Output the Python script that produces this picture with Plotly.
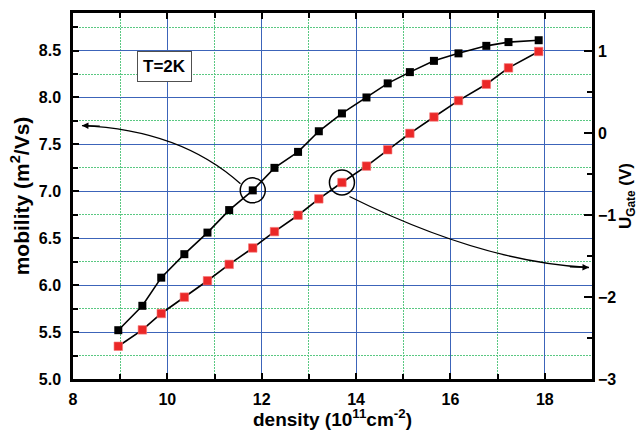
import plotly.graph_objects as go

density = [8.96, 9.47, 9.87, 10.36, 10.85, 11.31, 11.81, 12.27, 12.77, 13.21,
           13.70, 14.22, 14.67, 15.14, 15.65, 16.17, 16.76, 17.23, 17.87]
mobility = [5.52, 5.78, 6.08, 6.33, 6.56, 6.80, 7.01, 7.25, 7.42, 7.64,
            7.83, 8.00, 8.15, 8.27, 8.39, 8.47, 8.55, 8.59, 8.61]
u_gate = [-2.6, -2.4, -2.2, -2.0, -1.8, -1.6, -1.4, -1.2, -1.0, -0.8,
          -0.6, -0.4, -0.2, 0.0, 0.2, 0.4, 0.6, 0.8, 1.0]

# highlighted points (index into arrays)
mark_black = 6
mark_red = 10

# arrow curves (x, mobility) : start, control, end
arrow1 = [(11.55, 7.08), (10.28, 7.655), (8.19, 7.70)]
arrow1_tail = (8.6, 7.695)
arrow2 = [(13.86, 6.945), (16.66, 6.245), (18.936, 6.188)]
arrow2_tail = (18.5, 6.195)

font = "Liberation Sans, Arial, sans-serif"
blue = "rgb(60,100,185)"
green = "rgb(90,200,130)"
tfont = dict(family=font, size=16, color="black", weight="bold")

fig = go.Figure()
fig.add_trace(go.Scatter(x=density, y=mobility, mode="lines+markers",
                         line=dict(color="black", width=1.6),
                         marker=dict(symbol="square", size=8, color="black"),
                         showlegend=False))
fig.add_trace(go.Scatter(x=density, y=u_gate, mode="lines+markers", yaxis="y2",
                         line=dict(color="black", width=1.6),
                         marker=dict(symbol="square", size=8.5, color="rgb(235,40,40)",
                                     line=dict(color="rgb(245,120,120)", width=0.6)),
                         showlegend=False))

def qpath(p):
    (x0, y0), (cx, cy), (x1, y1) = p
    return f"M {x0},{y0} Q {cx},{cy} {x1},{y1}"

fig.add_shape(type="path", path=qpath(arrow1), xref="x", yref="y",
              line=dict(color="black", width=1.3))
fig.add_shape(type="path", path=qpath(arrow2), xref="x", yref="y",
              line=dict(color="black", width=1.3))

fig.add_annotation(x=arrow1[2][0], y=arrow1[2][1], ax=arrow1_tail[0], ay=arrow1_tail[1],
                   xref="x", yref="y", axref="x", ayref="y", text="", showarrow=True,
                   arrowhead=2, arrowsize=1, arrowwidth=1.3, arrowcolor="black")
fig.add_annotation(x=arrow2[2][0], y=arrow2[2][1], ax=arrow2_tail[0], ay=arrow2_tail[1],
                   xref="x", yref="y", axref="x", ayref="y", text="", showarrow=True,
                   arrowhead=2, arrowsize=1, arrowwidth=1.3, arrowcolor="black")

fig.add_shape(type="circle", xref="x", yref="y", xsizemode="pixel", ysizemode="pixel",
              xanchor=density[mark_black], yanchor=mobility[mark_black],
              x0=-12.5, x1=12.5, y0=-12.5, y1=12.5, line=dict(color="black", width=1.5))
fig.add_shape(type="circle", xref="x", yref="y2", xsizemode="pixel", ysizemode="pixel",
              xanchor=density[mark_red], yanchor=u_gate[mark_red],
              x0=-12.5, x1=12.5, y0=-12.5, y1=12.5, line=dict(color="black", width=1.5))

fig.add_annotation(x=9.93, y=8.33, xref="x", yref="y", text="<b>T=2K</b>", showarrow=False,
                   font=dict(tfont, size=17),
                   bordercolor="rgb(80,80,80)", borderwidth=1, borderpad=5, bgcolor="white")

fig.update_layout(
    width=641, height=430,
    margin=dict(l=73, r=49, t=13, b=51),
    plot_bgcolor="white", paper_bgcolor="white",
    font=dict(family=font, size=16, color="black"),
    xaxis=dict(range=[8, 19], dtick=2, tick0=8, showline=True, linecolor="black", linewidth=2.5,
               mirror="ticks", ticks="inside", ticklen=6, tickwidth=2, tickcolor="black",
               showgrid=True, gridcolor=blue, gridwidth=1.2, zeroline=False, automargin=False,
               minor=dict(dtick=1, tick0=8, showgrid=True, gridcolor=green, griddash="2px,1px",
                          gridwidth=1, ticks="inside", ticklen=5, tickcolor="black"),
               tickfont=tfont, ticklabelstandoff=4, tickprefix="<b>", ticksuffix="</b>",
               title=dict(text="<b>density (10<sup>11</sup>cm<sup>-2</sup>)</b>", standoff=7,
                          font=dict(tfont, size=19))),
    yaxis=dict(range=[5, 8.9], dtick=0.5, tick0=5, tickformat=".1f", showline=True,
               linecolor="black", linewidth=2.5, ticks="inside", ticklen=6, tickwidth=2,
               tickcolor="black", showgrid=True, gridcolor=blue, gridwidth=1.2, zeroline=False,
               automargin=False, tickprefix="<b>", ticksuffix="</b>",
               minor=dict(dtick=0.25, tick0=5, showgrid=True, gridcolor=green, griddash="2px,1px",
                          gridwidth=1, ticks="inside", ticklen=5, tickcolor="black"),
               tickfont=tfont, ticklabelstandoff=6,
               title=dict(text="<b>mobility (m<sup>2</sup>/Vs)</b>", standoff=4,
                          font=dict(tfont, size=21))),
    yaxis2=dict(range=[-3, 1.47], dtick=1, tick0=-3, overlaying="y", side="right",
                showline=True, linecolor="black", linewidth=2.5, ticks="inside", ticklen=8,
                tickwidth=2, tickcolor="black", showgrid=False, zeroline=False, automargin=False,
                tickprefix="<b>", ticksuffix="</b>",
                minor=dict(dtick=0.5, tick0=-3, ticks="inside", ticklen=5, tickcolor="black",
                           showgrid=False),
                tickfont=tfont, ticklabelstandoff=0,
                title=dict(text="<b>U<sub>Gate</sub> (V)</b>", standoff=0,
                           font=dict(tfont, size=17))),
)

fig.write_html("out.html")
